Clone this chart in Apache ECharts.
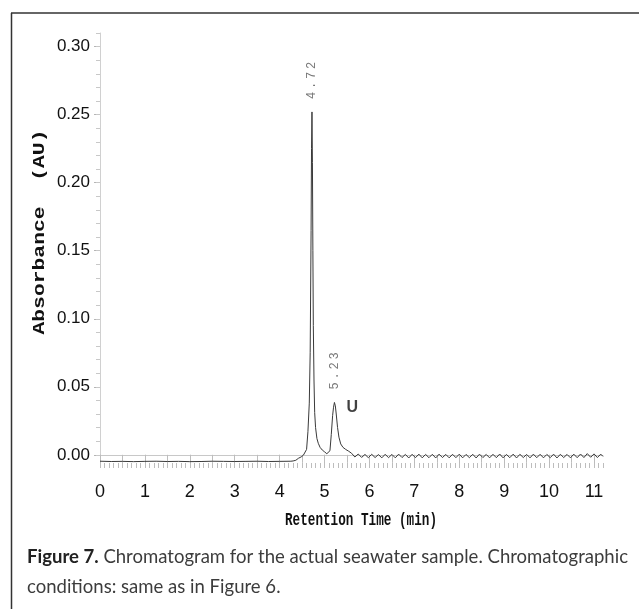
<!DOCTYPE html>
<html>
<head>
<meta charset="utf-8">
<script src="https://cdn.jsdelivr.net/npm/echarts@6/dist/echarts.min.js"></script>
<style>
html,body{margin:0;padding:0;background:#fff;}
#c{width:639px;height:609px;}
</style>
</head>
<body>
<div id="c"></div>
<script>
// ---- data ----
const baseTimes = [0, 0.25, 0.5, 0.75, 1, 1.25, 1.5, 1.75, 2, 2.25, 2.5, 2.75, 3, 3.25, 3.5, 3.75, 4, 4.25];
const baseValues = [-0.0047, -0.0049, -0.0048, -0.0050, -0.0048, -0.0047, -0.0049, -0.0048, -0.0050, -0.0049, -0.0047, -0.0048, -0.0049, -0.0048, -0.0047, -0.0049, -0.0048, -0.0047];

const peakTimes = [4.30, 4.36, 4.42, 4.48, 4.53, 4.57, 4.60, 4.63, 4.66, 4.68, 4.70, 4.71, 4.72, 4.73, 4.74, 4.75, 4.765, 4.78, 4.80, 4.83, 4.86, 4.90, 4.95, 5.00, 5.05, 5.09, 5.12, 5.15, 5.18, 5.20, 5.22, 5.24, 5.26, 5.29, 5.32, 5.36, 5.41, 5.47, 5.53, 5.57];
const peakValues = [-0.0045, -0.0040, -0.0025, -0.0015, -0.0002, 0.0012, 0.0040, 0.0170, 0.0380, 0.0750, 0.1650, 0.2250, 0.2520, 0.2150, 0.1500, 0.0950, 0.0550, 0.0310, 0.0200, 0.0120, 0.0085, 0.0055, 0.0035, 0.0022, 0.0008, 0.0004, 0.0030, 0.0150, 0.0290, 0.0350, 0.0385, 0.0360, 0.0300, 0.0200, 0.0130, 0.0080, 0.0055, 0.0040, 0.0028, 0.0018];

const tailTimes = [5.600, 5.675, 5.750, 5.825, 5.900, 5.975, 6.050, 6.125, 6.200, 6.275, 6.350, 6.425, 6.500, 6.575, 6.650, 6.725, 6.800, 6.875, 6.950, 7.025, 7.100, 7.175, 7.250, 7.325, 7.400, 7.475, 7.550, 7.625, 7.700, 7.775, 7.850, 7.925, 8.000, 8.075, 8.150, 8.225, 8.300, 8.375, 8.450, 8.525, 8.600, 8.675, 8.750, 8.825, 8.900, 8.975, 9.050, 9.125, 9.200, 9.275, 9.350, 9.425, 9.500, 9.575, 9.650, 9.725, 9.800, 9.875, 9.950, 10.025, 10.100, 10.175, 10.250, 10.325, 10.400, 10.475, 10.550, 10.625, 10.700, 10.775, 10.850, 10.925, 11.000, 11.075, 11.150, 11.200];
const tailValues = [0.0012, -0.0016, 0.0006, -0.0019, 0.0003, -0.0021, 0.0004, -0.0020, 0.0002, -0.0022, 0.0004, -0.0021, 0.0003, -0.0022, 0.0005, -0.0020, 0.0003, -0.0023, 0.0004, -0.0021, 0.0005, -0.0022, 0.0003, -0.0021, 0.0004, -0.0023, 0.0005, -0.0020, 0.0003, -0.0022, 0.0004, -0.0021, 0.0005, -0.0022, 0.0003, -0.0021, 0.0004, -0.0023, 0.0005, -0.0020, 0.0003, -0.0022, 0.0004, -0.0021, 0.0006, -0.0022, 0.0003, -0.0021, 0.0005, -0.0023, 0.0004, -0.0020, 0.0003, -0.0022, 0.0005, -0.0021, 0.0004, -0.0022, 0.0003, -0.0021, 0.0005, -0.0023, 0.0004, -0.0020, 0.0003, -0.0022, 0.0005, -0.0021, 0.0006, -0.0020, 0.0009, -0.0018, 0.0007, -0.0020, 0.0005, -0.0012];

const labeledPeakTimes = [4.72, 5.23];
const labeledPeakHeights = [0.2520, 0.0385];
const unknownPeak = [5.23, 0.0385];
const unknownLabel = 'U';

const xTickLabels = [0, 1, 2, 3, 4, 5, 6, 7, 8, 9, 10, 11];
const yTickLabels = [0.00, 0.05, 0.10, 0.15, 0.20, 0.25, 0.30];

const xTitle = 'Retention Time (min)';
const yTitle = 'Absorbance  (AU)';
const captionBold = 'Figure 7.';
const captionLine1 = ' Chromatogram for the actual seawater sample. Chromatographic';
const captionLine2 = 'conditions: same as in Figure 6.';

// ---- build ----
const trace = [];
[[baseTimes, baseValues], [peakTimes, peakValues], [tailTimes, tailValues]].forEach(([t, v]) => {
  t.forEach((x, i) => trace.push([x, v[i]]));
});

const xHalf = [], xTenth = [], yMinor = [];
for (let i = 0; i <= 112; i++) { xTenth.push(i / 10); }
for (let i = 0; i <= 22; i++) { xHalf.push(i / 2); }
for (let i = 0; i <= 31; i++) { yMinor.push(i / 100); }

function measure(font, text) {
  const c = document.createElement('canvas').getContext('2d');
  c.font = font;
  return c.measureText(text).width;
}

const yTitleFont = 'bold 17px "Liberation Mono"';
const xTitleFont = 'bold 18px "Liberation Mono"';
const capFontB = 'bold 19px Lato';
const capFontN = '19px Lato';
const yTitleScale = 205 / measure(yTitleFont, yTitle);
const xTitleScale = 152 / measure(xTitleFont, xTitle);
const capScale = 601 / (measure(capFontB, captionBold) + measure(capFontN, captionLine1));

const chart = echarts.init(document.getElementById('c'), null, { renderer: 'canvas' });

const X_MIN = 0, X_MAX = 11.2, Y_MIN = -0.006, Y_MAX = 0.31;

function minorX(vals, len) {
  return {
    type: 'value', min: X_MIN, max: X_MAX, position: 'bottom', offset: 0,
    axisLine: { show: false },
    axisTick: { show: true, customValues: vals, length: len, lineStyle: { color: '#bdbdbd', width: 1 } },
    axisLabel: { show: false }, splitLine: { show: false }
  };
}

chart.setOption({
  animation: false,
  backgroundColor: '#fff',
  grid: { left: 100, right: 36, top: 33, bottom: 146, containLabel: false, outerBoundsMode: 'none' },
  xAxis: [
    {
      type: 'value', min: X_MIN, max: X_MAX, position: 'bottom', offset: 0,
      axisLine: { show: true, lineStyle: { color: '#c8c8c8', width: 1 } },
      axisTick: { show: true, customValues: xTickLabels, length: 12, lineStyle: { color: '#b5b5b5', width: 1 } },
      axisLabel: { show: true, customValues: xTickLabels, margin: 20, color: '#111',
        fontFamily: '"Liberation Sans Narrow", "Liberation Sans", sans-serif', fontSize: 18 },
      splitLine: { show: false }
    },
    minorX(xHalf, 8),
    minorX(xTenth, 5)
  ],
  yAxis: [
    {
      type: 'value', min: Y_MIN, max: Y_MAX, position: 'left', offset: 0,
      axisLine: { show: true, lineStyle: { color: '#d0d0d0', width: 1 } },
      axisTick: { show: true, customValues: yTickLabels, length: 6, lineStyle: { color: '#b5b5b5', width: 1 } },
      axisLabel: { show: true, customValues: yTickLabels, margin: 10, color: '#111',
        fontFamily: '"Liberation Sans", sans-serif', fontSize: 17,
        formatter: v => Number(v).toFixed(2) },
      splitLine: { show: false }
    },
    {
      type: 'value', min: Y_MIN, max: Y_MAX, position: 'left', offset: 0,
      axisLine: { show: false },
      axisTick: { show: true, customValues: yMinor, length: 4, lineStyle: { color: '#c8c8c8', width: 1 } },
      axisLabel: { show: false }, splitLine: { show: false }
    }
  ],
  series: [
    {
      type: 'line', xAxisIndex: 0, yAxisIndex: 0,
      data: trace, showSymbol: false, smooth: false,
      lineStyle: { color: '#3a3a3a', width: 1 }
    },
    {
      type: 'scatter', xAxisIndex: 0, yAxisIndex: 0,
      data: labeledPeakTimes.map((t, i) => [t, labeledPeakHeights[i]]),
      symbol: 'circle', symbolSize: 1, itemStyle: { color: 'rgba(0,0,0,0)' },
      label: {
        show: true, position: 'top', distance: 11, rotate: 90,
        align: 'left', verticalAlign: 'middle',
        fontFamily: '"Liberation Mono", monospace', fontSize: 12, color: '#555',
        formatter: p => p.value[0].toFixed(2).split('').map(ch => '{c|' + ch + '}').join(''),
        rich: { c: { width: 10, align: 'center', fontFamily: '"Liberation Mono", monospace', fontSize: 12, color: '#555' } }
      }
    },
    {
      type: 'scatter', xAxisIndex: 0, yAxisIndex: 0,
      data: [unknownPeak],
      symbol: 'circle', symbolSize: 1, itemStyle: { color: 'rgba(0,0,0,0)' },
      label: {
        show: true, position: 'right', distance: 11, offset: [0, 5],
        fontFamily: '"Liberation Sans", sans-serif', fontWeight: 'bold', fontSize: 16, color: '#111',
        formatter: () => unknownLabel
      }
    }
  ],
  graphic: [
    { type: 'line', shape: { x1: 11, y1: 13, x2: 639, y2: 13 }, style: { stroke: '#666', lineWidth: 2 } },
    { type: 'line', shape: { x1: 11.5, y1: 13, x2: 11.5, y2: 609 }, style: { stroke: '#333', lineWidth: 1.5 } },
    {
      type: 'text', x: 40, y: 232, rotation: Math.PI / 2, scaleX: yTitleScale,
      style: { text: yTitle, font: yTitleFont, fill: '#111', align: 'center', verticalAlign: 'middle' }
    },
    {
      type: 'text', x: 361, y: 520, scaleX: xTitleScale,
      style: { text: xTitle, font: xTitleFont, fill: '#111', align: 'center', verticalAlign: 'middle' }
    },
    {
      type: 'text', x: 27, y: 557, scaleX: capScale,
      style: {
        text: '{b|' + captionBold + '}{n|' + captionLine1 + '}',
        align: 'left', verticalAlign: 'middle',
        rich: {
          b: { font: capFontB, fill: '#222' },
          n: { font: capFontN, fill: '#3c3c3c' }
        }
      }
    },
    {
      type: 'text', x: 27, y: 587, scaleX: capScale,
      style: { text: captionLine2, font: capFontN, fill: '#3c3c3c', align: 'left', verticalAlign: 'middle' }
    }
  ]
});
</script>
</body>
</html>
